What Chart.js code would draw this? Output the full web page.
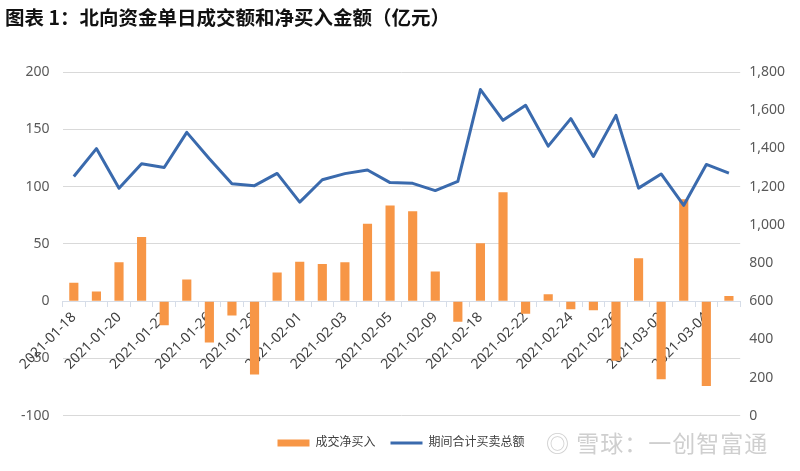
<!DOCTYPE html>
<html lang="zh">
  <head>
    <meta charset="UTF-8" />
    <title>北向资金单日成交额和净买入金额</title>
    <script src="https://cdn.jsdelivr.net/npm/chart.js"></script>
    <style>
      body { margin: 0; background: #fff; }
      #wrap { position: relative; width: 800px; height: 471px; }
      #title {
        position: absolute; left: 5px; top: 2px;
        font: bold 19.5px "Noto Sans CJK SC", sans-serif; color: #111;
      }
      #mark {
        position: absolute; left: 546px; top: 425px;
        font: 23px "Noto Sans CJK SC", sans-serif; color: #cfcfcf;
        letter-spacing: 1px;
      }
    </style>
  </head>
  <body>
    <div id="wrap">
      <canvas id="chart" width="800" height="471"></canvas>
      <div id="title">图表 1：北向资金单日成交额和净买入金额（亿元）</div>
      <div id="mark">◎ 雪球：一创智富通</div>
    </div>

    <script>
      // trading days shown on the x axis
      const dates = [
        "2021-01-18", "2021-01-19", "2021-01-20", "2021-01-21", "2021-01-22",
        "2021-01-25", "2021-01-26", "2021-01-27", "2021-01-28", "2021-01-29",
        "2021-02-01", "2021-02-02", "2021-02-03", "2021-02-04", "2021-02-05",
        "2021-02-08", "2021-02-09", "2021-02-10", "2021-02-18", "2021-02-19",
        "2021-02-22", "2021-02-23", "2021-02-24", "2021-02-25", "2021-02-26",
        "2021-03-01", "2021-03-02", "2021-03-03", "2021-03-04", "2021-03-05",
      ];
      // 成交净买入 (left axis)
      const netBuy = [
        16, 8.5, 34, 56, -21, 19, -36, -12.5, -64, 25,
        34.5, 32.5, 34, 67.5, 83.5, 78.5, 26, -18, 50.5, 95,
        -11, 6, -7, -8, -52, 37.5, -68, 89, -74, 4.5,
      ];
      // 期间合计买卖总额 (right axis)
      const turnover = [
        1253, 1399, 1191, 1320, 1300, 1484, 1346, 1215, 1205, 1269,
        1119, 1236, 1268, 1287, 1221, 1217, 1179, 1227, 1708, 1547,
        1626, 1412, 1556, 1358, 1573, 1192, 1266, 1102, 1316, 1271,
      ];

      const font = "'Noto Sans', 'Noto Sans CJK SC', sans-serif";
      const tickColor = "#595959";

      new Chart(document.getElementById("chart"), {
        type: "bar",
        data: {
          labels: dates,
          datasets: [
            {
              label: "成交净买入",
              data: netBuy,
              yAxisID: "y",
              backgroundColor: "#f79646",
              barPercentage: 0.45,
              categoryPercentage: 0.9,
              pointStyle: "rect",
              order: 1,
            },
            {
              type: "line",
              label: "期间合计买卖总额",
              data: turnover,
              yAxisID: "y1",
              borderColor: "#3a6aad",
              backgroundColor: "#3a6aad",
              borderWidth: 3,
              borderJoinStyle: "round",
              tension: 0,
              pointRadius: 0,
              pointStyle: "line",
              order: 0,
            },
          ],
        },
        options: {
          responsive: false,
          animation: false,
          layout: { padding: { top: 72, left: 8, right: 6, bottom: 12 } },
          plugins: {
            tooltip: { enabled: false },
            legend: {
              position: "bottom",
              // empty title only adds some room above the legend row
              title: { display: true, text: "", font: { size: 1 }, padding: { top: 0, bottom: 5 } },
              labels: {
                usePointStyle: true,
                pointStyleWidth: 32,
                boxHeight: 7,
                color: "#404040",
                font: { family: font, size: 12 },
                padding: 15,
                sort: (a, b) => a.datasetIndex - b.datasetIndex,
              },
            },
          },
          scales: {
            x: {
              position: { y: 0 },
              z: 1,
              grid: {
                drawOnChartArea: false,
                drawTicks: true,
                tickLength: 5,
                color: "#d6dde8",
              },
              border: { color: "#d6dde8" },
              ticks: {
                autoSkip: false,
                maxRotation: 45,
                minRotation: 45,
                color: "#404040",
                font: { family: font, size: 14 },
                callback: function (value, index) {
                  return index % 2 === 0 ? dates[index] : "";
                },
              },
            },
            y: {
              position: "left",
              min: -100,
              max: 200,
              grid: { color: "#d9d9d9", drawTicks: false },
              border: { display: false },
              ticks: {
                stepSize: 50,
                padding: 13,
                color: tickColor,
                font: { family: font, size: 14 },
              },
            },
            y1: {
              position: "right",
              min: 0,
              max: 1800,
              grid: { display: false, drawTicks: false },
              border: { display: false },
              ticks: {
                stepSize: 200,
                padding: 9,
                color: tickColor,
                font: { family: font, size: 14 },
              },
            },
          },
        },
      });
    </script>
  </body>
</html>
